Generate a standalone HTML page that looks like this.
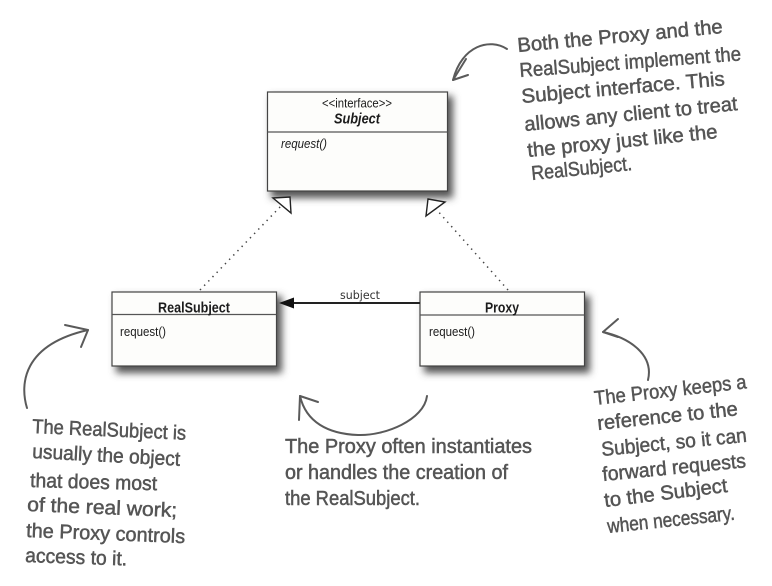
<!DOCTYPE html>
<html>
<head>
<meta charset="utf-8">
<style>
html,body{margin:0;padding:0;background:#fff;}
svg{display:block;}
.u{font-family:"Liberation Sans",sans-serif;fill:#1c1c1c;}
.h{font-family:"Liberation Sans",sans-serif;font-size:20px;fill:#555;stroke:#555;stroke-width:.5;}
.c{fill:none;stroke:#5a5a5a;stroke-width:2;stroke-linecap:round;stroke-linejoin:round;}
.box{fill:#fdfdfb;stroke:#444;stroke-width:1.2;}
.div{stroke:#555;stroke-width:1.2;}
</style>
</head>
<body>
<svg width="772" height="586" viewBox="0 0 772 586" xmlns="http://www.w3.org/2000/svg">
<defs>
<filter id="b" x="-20%" y="-20%" width="140%" height="140%"><feGaussianBlur stdDeviation="3.6"/></filter>
</defs>
<rect width="772" height="586" fill="#fff"/>

<!-- shadows -->
<rect x="271" y="96" width="182" height="102" fill="#555" filter="url(#b)"/>
<rect x="116" y="296" width="166" height="77" fill="#555" filter="url(#b)"/>
<rect x="424" y="296" width="166" height="77" fill="#555" filter="url(#b)"/>

<!-- Subject -->
<rect class="box" x="267.5" y="92" width="180" height="99"/>
<line class="div" x1="267.5" y1="132" x2="447.5" y2="132"/>
<text class="u" x="357" y="107.5" font-size="12.5" text-anchor="middle" textLength="70" lengthAdjust="spacingAndGlyphs">&lt;&lt;interface&gt;&gt;</text>
<text class="u" x="357" y="123.5" font-size="14.5" font-weight="bold" font-style="italic" text-anchor="middle" textLength="46" lengthAdjust="spacingAndGlyphs">Subject</text>
<text class="u" x="281" y="148" font-size="13" font-style="italic" textLength="46" lengthAdjust="spacingAndGlyphs">request()</text>

<!-- RealSubject -->
<rect class="box" x="112" y="292" width="164.5" height="74"/>
<line class="div" x1="112" y1="314.5" x2="276.5" y2="314.5"/>
<text class="u" x="194" y="312.5" font-size="15" font-weight="bold" text-anchor="middle" textLength="72" lengthAdjust="spacingAndGlyphs">RealSubject</text>
<text class="u" x="120" y="336" font-size="13" textLength="46" lengthAdjust="spacingAndGlyphs">request()</text>

<!-- Proxy -->
<rect class="box" x="420" y="292" width="164.5" height="74"/>
<line class="div" x1="420" y1="315" x2="584.5" y2="315"/>
<text class="u" x="502" y="312.5" font-size="15" font-weight="bold" text-anchor="middle" textLength="34" lengthAdjust="spacingAndGlyphs">Proxy</text>
<text class="u" x="429" y="336" font-size="13" textLength="46" lengthAdjust="spacingAndGlyphs">request()</text>

<!-- association -->
<line x1="290" y1="303" x2="420" y2="303" stroke="#222" stroke-width="2"/>
<polygon points="279,303 294,297.5 294,308.5" fill="#111"/>
<text x="340" y="299" font-family="'DejaVu Sans',sans-serif" font-size="11.5" fill="#333" textLength="40" lengthAdjust="spacingAndGlyphs">subject</text>

<!-- realization -->
<line x1="200" y1="290" x2="281" y2="206" stroke="#444" stroke-width="1.5" stroke-dasharray="1.4 4.6"/>
<line x1="508" y1="290" x2="436" y2="209" stroke="#444" stroke-width="1.5" stroke-dasharray="1.4 4.6"/>
<polygon points="273,198 290,197 291,213" fill="#fff" stroke="#222" stroke-width="1.4"/>
<polygon points="428,199 445,202 426,216" fill="#fff" stroke="#222" stroke-width="1.4"/>

<!-- hand-drawn arrows -->
<path class="c" d="M507,49 C490,38 462,45 453,80"/>
<path class="c" d="M453,80 L466,59 M453,80 L468,75"/>
<path class="c" d="M27,408 C20,385 22,345 88,330"/>
<path class="c" d="M88,330 L65,325 M88,330 L81,347"/>
<path class="c" d="M427,396 C424,420 385,436 358,435 C328,434 306,422 300,396"/>
<path class="c" d="M300,396 L318,402 M300,396 L299,420" stroke-width="2.4"/>
<path class="c" d="M648,380 C654,355 630,338 603,332"/>
<path class="c" d="M603,332 L618,319 M603,332 L618,337"/>

<!-- top-right note -->
<g class="h">
<text transform="translate(518 52) rotate(-5.3)" textLength="206" lengthAdjust="spacingAndGlyphs">Both the Proxy and the</text>
<text transform="translate(520 77) rotate(-4.3)" textLength="222" lengthAdjust="spacingAndGlyphs">RealSubject implement the</text>
<text transform="translate(522 103) rotate(-5)" textLength="204" lengthAdjust="spacingAndGlyphs">Subject interface.  This</text>
<text transform="translate(525 131) rotate(-5.6)" textLength="214" lengthAdjust="spacingAndGlyphs">allows any client to treat</text>
<text transform="translate(528 157) rotate(-5.7)" textLength="191" lengthAdjust="spacingAndGlyphs">the proxy just like the</text>
<text transform="translate(532 180) rotate(-5.7)" textLength="101" lengthAdjust="spacingAndGlyphs">RealSubject.</text>
</g>

<!-- left note -->
<g class="h">
<text transform="translate(32 433) rotate(2.5)" textLength="154" lengthAdjust="spacingAndGlyphs">The RealSubject is</text>
<text transform="translate(32 458) rotate(3)" textLength="148" lengthAdjust="spacingAndGlyphs">usually the object</text>
<text transform="translate(30 487) rotate(1.5)" textLength="127" lengthAdjust="spacingAndGlyphs">that does most</text>
<text transform="translate(27 511) rotate(2.3)" textLength="150" lengthAdjust="spacingAndGlyphs">of the real work;</text>
<text transform="translate(26 537) rotate(2.2)" textLength="159" lengthAdjust="spacingAndGlyphs">the Proxy controls</text>
<text transform="translate(25 562) rotate(2)" textLength="102" lengthAdjust="spacingAndGlyphs">access to it.</text>
</g>

<!-- middle note -->
<g class="h">
<text x="285" y="453" textLength="247" lengthAdjust="spacingAndGlyphs">The Proxy often instantiates</text>
<text x="285" y="479" textLength="223" lengthAdjust="spacingAndGlyphs">or handles the creation of</text>
<text x="285" y="505" textLength="135" lengthAdjust="spacingAndGlyphs">the RealSubject.</text>
</g>

<!-- right note -->
<g class="h">
<text transform="translate(595 405) rotate(-6.3)" textLength="153" lengthAdjust="spacingAndGlyphs">The Proxy keeps a</text>
<text transform="translate(598 430) rotate(-6)" textLength="141" lengthAdjust="spacingAndGlyphs">reference to the</text>
<text transform="translate(602 456) rotate(-5.6)" textLength="146" lengthAdjust="spacingAndGlyphs">Subject, so it can</text>
<text transform="translate(603 481) rotate(-5.5)" textLength="144" lengthAdjust="spacingAndGlyphs">forward requests</text>
<text transform="translate(605 507) rotate(-7)" textLength="124" lengthAdjust="spacingAndGlyphs">to the Subject</text>
<text transform="translate(608 533) rotate(-6)" textLength="128" lengthAdjust="spacingAndGlyphs">when necessary.</text>
</g>
</svg>
</body>
</html>
